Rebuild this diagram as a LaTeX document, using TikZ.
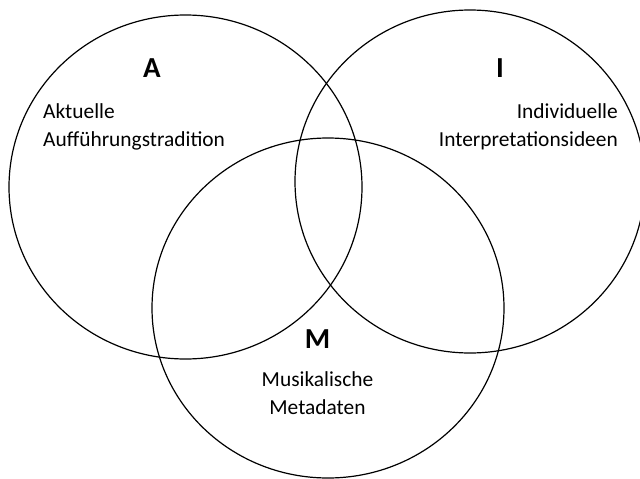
\documentclass[tikz,border=0pt]{standalone}
\usepackage{fontspec}
\setmainfont{Carlito}
\tikzset{
  venn/.style={draw=black, line width=1.2pt},
  body/.style={inner sep=0pt, font=\fontsize{21.4}{27.5}\selectfont},
  letter/.style={inner sep=0pt, font=\fontsize{29}{34}\selectfont\bfseries, anchor=base},
}
\begin{document}
\begin{tikzpicture}[x=1pt, y=-1pt]
  \useasboundingbox (0,0) rectangle (640,479);
  \begin{scope}
    \clip (0,0) rectangle (640,479);
    \draw[venn] (185.5,187) ellipse [x radius=176.5, y radius=172];
    \draw[venn] (470,181.5) ellipse [x radius=175, y radius=171.5];
    \draw[venn] (328,308) ellipse [x radius=176, y radius=170];
  \end{scope}
  \node[letter] (a) at (152,77) {A};
  \node[letter] (i) at (500,77) {I};
  \node[letter] (m) at (317.5,348) {M};
  \node[body, align=left, anchor=base west] (at) at (43,146) {Aktuelle\\Aufführungstradition};
  \node[body, align=right, anchor=base east] (it) at (618,146) {Individuelle\\Interpretationsideen};
  \node[body, align=center, anchor=base] (mt) at (317.5,414) {Musikalische\\Metadaten};
\end{tikzpicture}
\end{document}
